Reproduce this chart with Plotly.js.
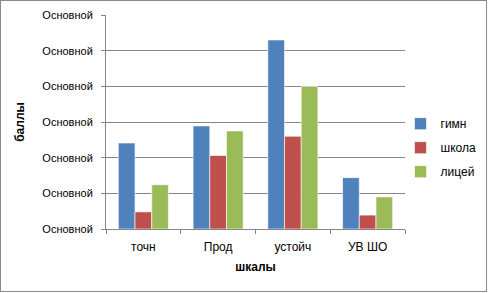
<!DOCTYPE html>
<html><head><meta charset="utf-8">
<script src="https://cdn.plot.ly/plotly-3.0.1.min.js"></script>
<style>
body{margin:0;background:#fff;}
#wrap{position:relative;width:488px;height:293px;}
#chart{position:absolute;left:0;top:0;width:488px;height:293px;}
#frame{position:absolute;left:0;top:0;width:487px;height:292px;box-sizing:border-box;border:1px solid #8a8a8a;pointer-events:none;}
</style></head>
<body>
<div id="wrap"><div id="chart"></div><div id="frame"></div></div>
<script>
const categories = ["точн", "Прод", "устойч", "УВ ШО"];
const seriesNames = ["гимн", "школа", "лицей"];
const gimn = [2.41, 2.89, 5.30, 1.44];
const shkola = [0.48, 2.06, 2.60, 0.39];
const licey = [1.24, 2.75, 4.00, 0.90];
const yTickVals = [0, 1, 2, 3, 4, 5, 6];
const yTickText = ["Основной","Основной","Основной","Основной","Основной","Основной","Основной"];
const colors = ["#4F81BD", "#C0504D", "#9BBB59"];
const values = [gimn, shkola, licey];

const traces = seriesNames.map((n, i) => ({
  type: "bar", name: n, x: categories, y: values[i], legendgroup: n,
  marker: {color: colors[i], line: {color: "rgba(255,255,255,0.6)", width: 1}},
  hoverinfo: "x+y+name"
}));

const font = {family: "Liberation Sans, Arial, sans-serif", size: 11, color: "#000"};
const xfont = {family: "Liberation Sans, Arial, sans-serif", size: 12, color: "#000"};
const layout = {
  width: 488, height: 293,
  margin: {l: 106, r: 83, t: 15, b: 64, autoexpand: false},
  paper_bgcolor: "#fff", plot_bgcolor: "#fff",
  font: font,
  barmode: "group", bargap: 0.33, bargroupgap: 0,
  showlegend: true,
  legend: {x: 0.985, y: 0.56, xanchor: "left", yanchor: "top", traceorder: "grouped",
           tracegroupgap: 5, font: xfont, bgcolor: "rgba(0,0,0,0)", itemwidth: 30},
  xaxis: {
    type: "category", showline: true, linecolor: "#868686", linewidth: 1,
    ticks: "outside", ticklen: 4, tickcolor: "#868686", tickson: "boundaries",
    showgrid: false, zeroline: false, tickfont: xfont, ticklabelstandoff: 7,
    title: {text: "<b>шкалы</b>", font: {family: font.family, size: 12, color: "#000"}, standoff: 9}
  },
  yaxis: {
    range: [0, 6], tickvals: yTickVals, ticktext: yTickText,
    showline: true, linecolor: "#868686", linewidth: 1,
    ticks: "outside", ticklen: 4, tickcolor: "#868686",
    showgrid: true, gridcolor: "#868686", gridwidth: 1, zeroline: false,
    tickfont: font, ticklabelstandoff: 6,
    title: {text: "<b>баллы</b>", font: {family: font.family, size: 12, color: "#000"}, standoff: 15}
  }
};
Plotly.newPlot("chart", traces, layout, {displayModeBar: false, staticPlot: true});
</script>
</body></html>
